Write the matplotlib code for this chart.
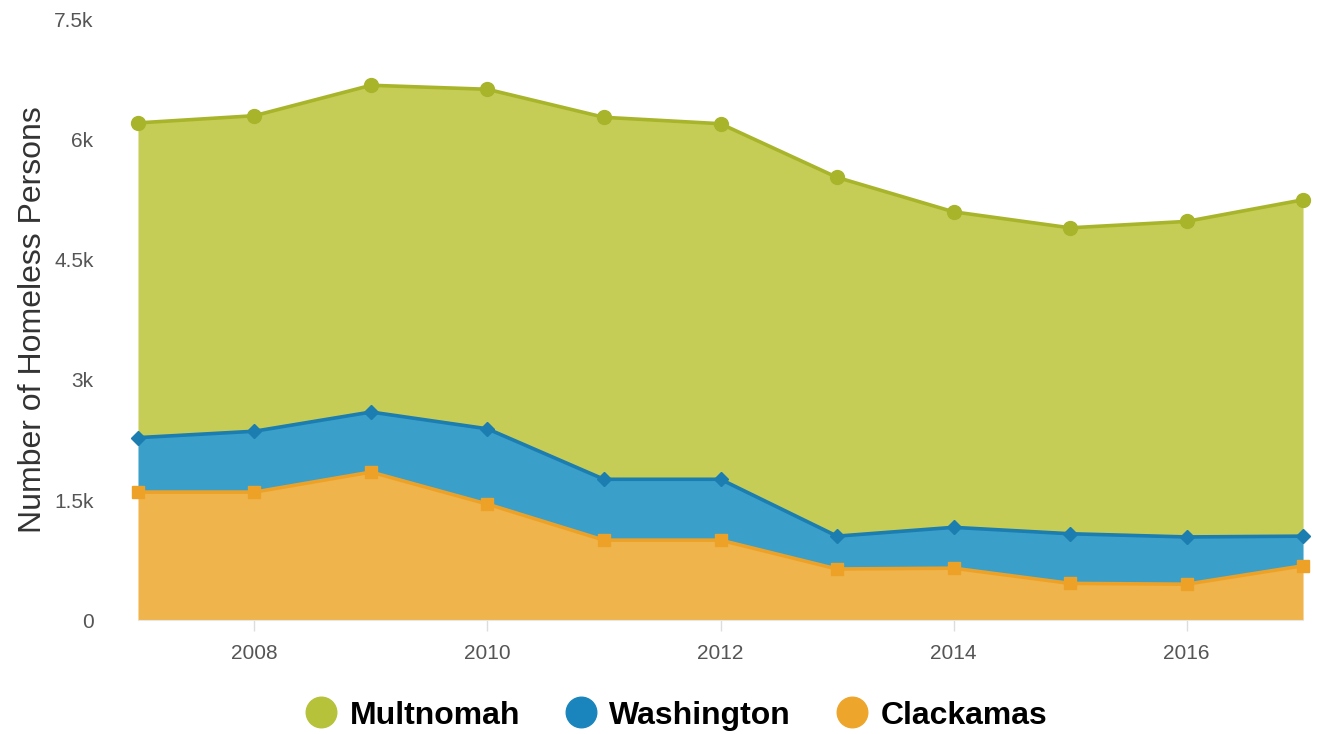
import numpy as np
import matplotlib.pyplot as plt
from matplotlib.lines import Line2D

years = [2007, 2008, 2009, 2010, 2011, 2012, 2013, 2014, 2015, 2016, 2017]
clackamas = [1600, 1600, 1850, 1450, 1000, 1000, 640, 650, 460, 450, 680]
washington = [680, 760, 750, 940, 760, 760, 410, 510, 620, 590, 370]
multnomah = [3930, 3940, 4080, 4240, 4520, 4440, 4480, 3940, 3820, 3940, 4200]

series = [
    ("Clackamas", clackamas, "#f0b44c", "#eda227", "s", 9),
    ("Washington", washington, "#3a9fc9", "#1b7db0", "D", 7),
    ("Multnomah", multnomah, "#c6cd57", "#a8b52b", "o", 10),
]

plt.rcParams['font.family'] = ['Liberation Sans', 'DejaVu Sans']

fig = plt.figure(figsize=(13.19, 7.34), dpi=100)
ax = fig.add_axes([0.1046, 0.155, 0.8833, 0.8183])

# stacked fills first, then the lines on top
base = np.zeros(len(years))
for name, vals, fill, line, mk, ms in series:
    top = base + np.array(vals)
    ax.fill_between(years, base, top, color=fill, linewidth=0, zorder=1)
    base = top

base = np.zeros(len(years))
for name, vals, fill, line, mk, ms in series:
    top = base + np.array(vals)
    ax.plot(years, top, color=line, linewidth=2.6, marker=mk, markersize=ms, zorder=3, clip_on=False)
    base = top

ax.set_xlim(2007, 2017)
ax.set_ylim(0, 7500)
ax.set_yticks([0, 1500, 3000, 4500, 6000, 7500])
ax.set_yticklabels(["0", "1.5k", "3k", "4.5k", "6k", "7.5k"])
ax.set_xticks([2008, 2010, 2012, 2014, 2016])
ax.tick_params(axis='y', length=0, pad=32, labelsize=15, labelcolor="#555555")
ax.tick_params(axis='x', length=8, width=1, color="#dddddd", pad=9, labelsize=15, labelcolor="#555555")
for s in ["top", "right", "left"]:
    ax.spines[s].set_visible(False)
ax.spines["bottom"].set_color("#e6e6e6")
ax.set_ylabel("Number of Homeless Persons", fontsize=23, color="#333333")
ax.yaxis.set_label_coords(-0.077, 0.5)

handles = [
    Line2D([], [], linestyle="none", marker="o", markersize=22, color="#b5c23a", label="Multnomah"),
    Line2D([], [], linestyle="none", marker="o", markersize=22, color="#1a85bd", label="Washington"),
    Line2D([], [], linestyle="none", marker="o", markersize=22, color="#eda52c", label="Clackamas"),
]
fig.legend(handles=handles, loc="center", bbox_to_anchor=(0.5125, 0.025), ncol=3, frameon=False,
           prop={"weight": "bold", "size": 23}, handlelength=1.0, handletextpad=0.4, columnspacing=1.4)

fig.savefig("out.png", dpi=100)
